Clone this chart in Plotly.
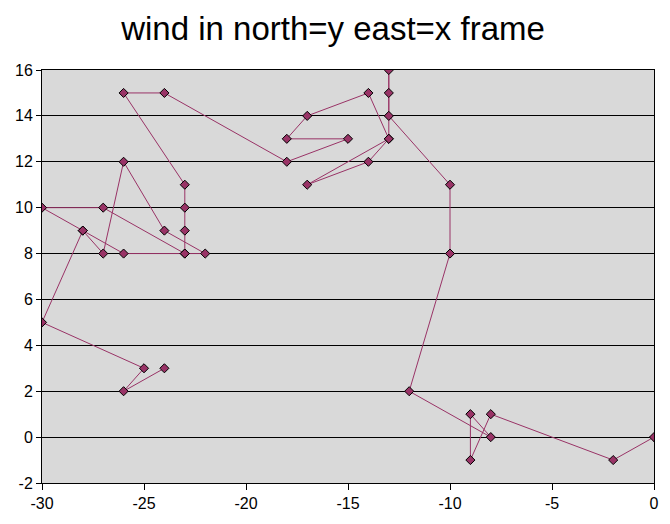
import plotly.graph_objects as go

# wind vector track, east = x, north = y
east = [0, -2, -8, -9, -9, -8, -12, -10, -10, -13, -13, -13, -13,
        -14, -17, -13, -14, -17, -18, -15, -18,
        -24, -26, -23, -23, -23, -23, -27, -30, -28, -26, -23, -22,
        -24, -26, -27, -28, -30, -25, -26, -24]
north = [0, -1, 1, -1, 1, 0, 2, 8, 11, 14, 15, 16, 13,
         12, 11, 13, 15, 14, 13, 13, 12,
         15, 15, 11, 10, 9, 8, 10, 10, 9, 8, 8, 8,
         9, 12, 8, 9, 5, 3, 2, 3]

x_ticks = [-30, -25, -20, -15, -10, -5, 0]
y_ticks = [-2, 0, 2, 4, 6, 8, 10, 12, 14, 16]

fig = go.Figure(go.Scatter(
    x=east, y=north, mode="lines+markers",
    line=dict(color="#993366", width=1),
    marker=dict(symbol="diamond", size=7, color="#993366",
                line=dict(color="black", width=1)),
    showlegend=False,
))

# page body has an 8px margin, so the figure is sized to fit inside it
fig.update_layout(
    width=654, height=508,
    margin=dict(l=34, r=3, t=62, b=33),
    paper_bgcolor="white",
    plot_bgcolor="#D9D9D9",
    font=dict(family="Liberation Sans, Arial, sans-serif", size=16, color="black"),
    title=dict(text="wind in north=y east=x frame",
               font=dict(size=33, color="black", family="Liberation Sans, Arial, sans-serif"),
               x=325 / 654, xanchor="center", xref="container",
               y=1 - 20 / 508, yanchor="middle", yref="container"),
)
fig.update_xaxes(range=[-30, 0], tickvals=x_ticks, ticktext=[str(v) for v in x_ticks],
                 showgrid=False, zeroline=False, ticklabeloverflow="allow",
                 showline=True, linecolor="black", linewidth=1, mirror=True,
                 ticks="outside", ticklen=6, tickcolor="black")
fig.update_yaxes(range=[-2, 16], tickvals=y_ticks, ticktext=[str(v) for v in y_ticks],
                 showgrid=True, gridcolor="black", gridwidth=1, zeroline=False,
                 ticklabeloverflow="allow",
                 showline=True, linecolor="black", linewidth=1, mirror=True,
                 ticks="outside", ticklen=5, tickcolor="black")

fig.write_html("out.html")
